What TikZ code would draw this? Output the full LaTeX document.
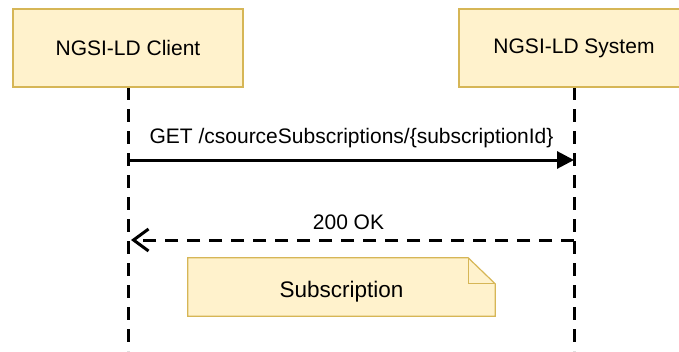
\documentclass[tikz,border=0pt]{standalone}
\usepackage{fontspec}
\setmainfont{Liberation Sans}
\usetikzlibrary{arrows.meta,backgrounds}
\definecolor{cBoxFill}{HTML}{FFF2CC}
\definecolor{cBoxLine}{HTML}{D6B656}
\begin{document}
\begin{tikzpicture}[x=1pt,y=-1pt,
  actor/.style={draw=cBoxLine,fill=cBoxFill,line width=1.2pt,minimum width=230pt,minimum height=78pt,inner sep=0pt,font=\fontsize{21}{25}\selectfont},
  lifeline/.style={line width=3pt,dash pattern=on 13pt off 9pt},
  msg/.style={line width=3pt},
  lbl/.style={font=\fontsize{21}{25}\selectfont,inner sep=0pt,anchor=base},
  notebox/.style={draw=cBoxLine,fill=cBoxFill,line width=1.2pt,line join=miter}]
\useasboundingbox (0,0) rectangle (679,351);
% lifelines
\coordinate (clientEnd) at (128,351);
\coordinate (systemEnd) at (574,351);
\draw[lifeline] (128,87) -- (clientEnd);
\draw[lifeline] (574,87) -- (systemEnd);
% actors
\node[actor] (client) at (128,48) {NGSI-LD Client};
\node[actor] (system) at (574,48) {NGSI-LD System};
% messages
\coordinate (c1) at (128,160);
\coordinate (s1) at (574,160);
\coordinate (c2) at (131,240);
\coordinate (s2) at (574,240);
\draw[msg,-{Triangle[length=17pt,width=17pt]}] (c1) -- (s1);
\node[lbl] (getLbl) at (351.5,143) {GET /csourceSubscriptions/\{subscriptionId\}};
\draw[msg,dash pattern=on 13pt off 9pt,-{Straight Barb[length=15pt,width=22pt]}] (s2) -- (c2);
\node[lbl] (okLbl) at (348.5,229) {200 OK};
% note
\node[inner sep=0pt,minimum width=307pt,minimum height=58pt,text height=24pt,text depth=4pt,font=\fontsize{22.5}{27}\selectfont] (note) at (341.5,287) {Subscription};
\begin{scope}[on background layer]
\draw[notebox] (note.south west) -- (note.north west) -- ([xshift=-27pt]note.north east) -- ([yshift=-26pt]note.north east) -- (note.south east) -- cycle;
\draw[notebox,fill=none] ([xshift=-27pt]note.north east) -- ([xshift=-27pt,yshift=-26pt]note.north east) -- ([yshift=-26pt]note.north east);
\end{scope}
\end{tikzpicture}
\end{document}
